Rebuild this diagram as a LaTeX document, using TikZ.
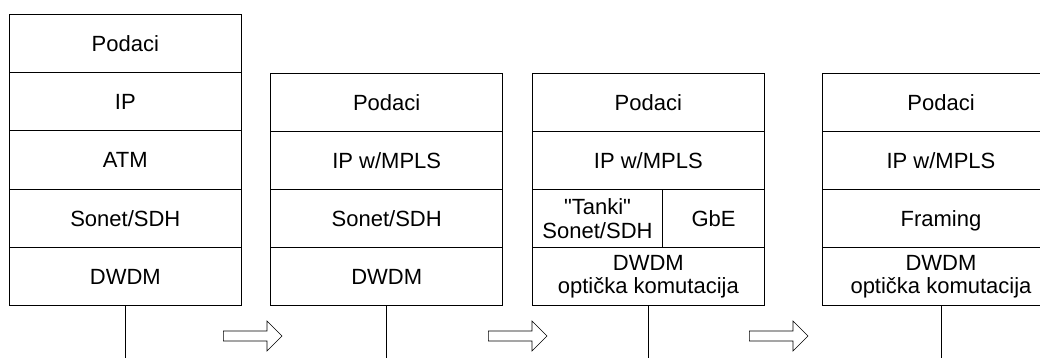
\documentclass[tikz,border=0pt]{standalone}
\usepackage{fontspec}
\setmainfont{Liberation Sans}[Ligatures=TeXOff]
\begin{document}
\begin{tikzpicture}[x=1pt,y=-1pt,
  layerbase/.style={draw, line width=0.9pt, rectangle, minimum height=58.1pt,
    inner sep=0pt, outer sep=0pt, anchor=north west,
    font=\fontsize{22}{23.3}\selectfont},
  layer/.style={layerbase, minimum width=232pt, text height=16pt, text depth=0pt},
  layertwo/.style={layerbase, minimum width=232pt, align=center},
  stem/.style={line width=0.9pt},
  blockarrow/.style={draw, line width=0.6pt, fill=white}]
\useasboundingbox (0,0) rectangle (1040,358);
\clip (0,0) rectangle (1040,358);
% stack 1
\node[layer] (a1) at (9.3,14.7) {Podaci};
\node[layer] (a2) at (9.3,72.8) {IP};
\node[layer] (a3) at (9.3,130.9) {ATM};
\node[layer] (a4) at (9.3,189.0) {Sonet/SDH};
\node[layer] (a5) at (9.3,247.1) {DWDM};
% stack 2
\node[layer] (b1) at (270.7,73.3) {Podaci};
\node[layer] (b2) at (270.7,131.4) {IP w/MPLS};
\node[layer] (b3) at (270.7,189.5) {Sonet/SDH};
\node[layer] (b4) at (270.7,247.6) {DWDM};
% stack 3
\node[layer] (c1) at (532.3,73.3) {Podaci};
\node[layer] (c2) at (532.3,131.4) {IP w/MPLS};
\node[layerbase, minimum width=130.4pt, align=center] (c3a) at (532.3,189.5) {"Tanki"\\Sonet/SDH};
\node[layer, minimum width=101.6pt] (c3b) at (662.7,189.5) {GbE};
\node[layertwo] (c4) at (532.3,247.6) {DWDM\\optička komutacija};
% stack 4
\node[layer, minimum width=237.4pt] (d1) at (822.3,73.3) {Podaci};
\node[layer, minimum width=237.4pt] (d2) at (822.3,131.4) {IP w/MPLS};
\node[layer, minimum width=237.4pt] (d3) at (822.3,189.5) {Framing};
\node[layertwo, minimum width=237.4pt] (d4) at (822.3,247.6) {DWDM\\optička komutacija};
% stems
\coordinate (ea) at (a5.south |- 0,358);
\coordinate (eb) at (b4.south |- 0,358);
\coordinate (ec) at (c4.south |- 0,358);
\coordinate (ed) at (d4.south |- 0,358);
\draw[stem] (a5.south) -- (ea);
\draw[stem] (b4.south) -- (eb);
\draw[stem] (c4.south) -- (ec);
\draw[stem] (d4.south) -- (ed);
% block arrows
\foreach \x in {223.3, 488.3, 749.3} {
  \draw[blockarrow] (\x,331) -- ++(43.7,0) -- ++(0,-10) -- ++(15,15) -- ++(-15,15)
    -- ++(0,-10) -- ++(-43.7,0) -- cycle;
}
\end{tikzpicture}
\end{document}
